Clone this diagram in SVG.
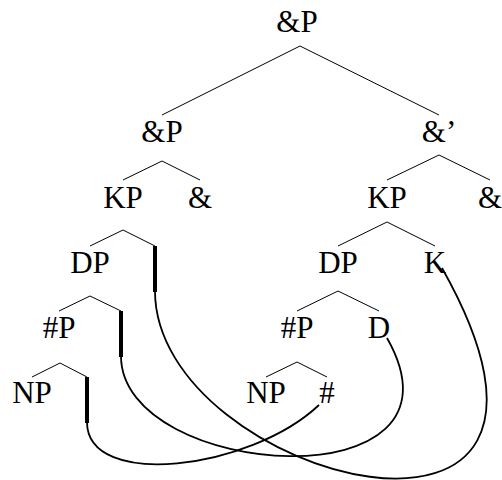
<svg xmlns="http://www.w3.org/2000/svg" width="502" height="480" viewBox="0 0 502 480">
<style>
text{font-family:"Liberation Serif","Times New Roman",serif;font-size:31px;fill:#000;text-anchor:middle}
.br{stroke:#000;stroke-width:1;fill:none}
.bar{stroke:#000;stroke-width:4;fill:none}
.mv{stroke:#000;stroke-width:1.8;fill:none}
</style>
<rect width="502" height="480" fill="#fff"/>
<g id="connectors">
<polyline class="br" points="162,115 300,46 439,115"/>
<polyline class="br" points="123,180 162,161 200,180"/>
<polyline class="br" points="387,180 439,155 490,180"/>
<polyline class="br" points="90,246 123,230 155,246"/>
<polyline class="br" points="338,246 387,222 435,246"/>
<polyline class="br" points="59,311 90,296 121,311"/>
<polyline class="br" points="297,311 338,291 379,311"/>
<polyline class="br" points="32,377 60,363 87,377"/>
<polyline class="br" points="266,377 297,362 327,377"/>
<line class="bar" x1="155" y1="246" x2="155" y2="292"/>
<line class="bar" x1="121" y1="311" x2="121" y2="357"/>
<line class="bar" x1="87" y1="377" x2="87" y2="423"/>
<path class="mv" d="M155,291 C155,480 632,605 442,268"/>
<path class="mv" d="M121,356 C121,480 482,505 387,338"/>
<path class="mv" d="M87,422 C87,490 250,470 319,405"/>
</g>
<g id="n-andP-top"><text x="297" y="32">&amp;P</text></g>
<g id="n-andP-left"><text x="162" y="142">&amp;P</text></g>
<g id="n-andbar"><text x="439" y="142">&amp;’</text></g>
<g id="n-KP-left"><text x="123" y="208">KP</text></g>
<g id="n-and-left"><text x="200" y="208">&amp;</text></g>
<g id="n-KP-right"><text x="387" y="208">KP</text></g>
<g id="n-and-right"><text x="490" y="208">&amp;</text></g>
<g id="n-DP-left"><text x="90" y="273">DP</text></g>
<g id="n-DP-right"><text x="338" y="273">DP</text></g>
<g id="n-K"><text x="435" y="273">K</text></g>
<g id="n-numP-left"><text x="59" y="338">#P</text></g>
<g id="n-numP-right"><text x="297" y="338">#P</text></g>
<g id="n-D"><text x="379" y="338">D</text></g>
<g id="n-NP-left"><text x="32" y="403">NP</text></g>
<g id="n-NP-right"><text x="266" y="403">NP</text></g>
<g id="n-num"><text x="327" y="403">#</text></g>
</svg>
